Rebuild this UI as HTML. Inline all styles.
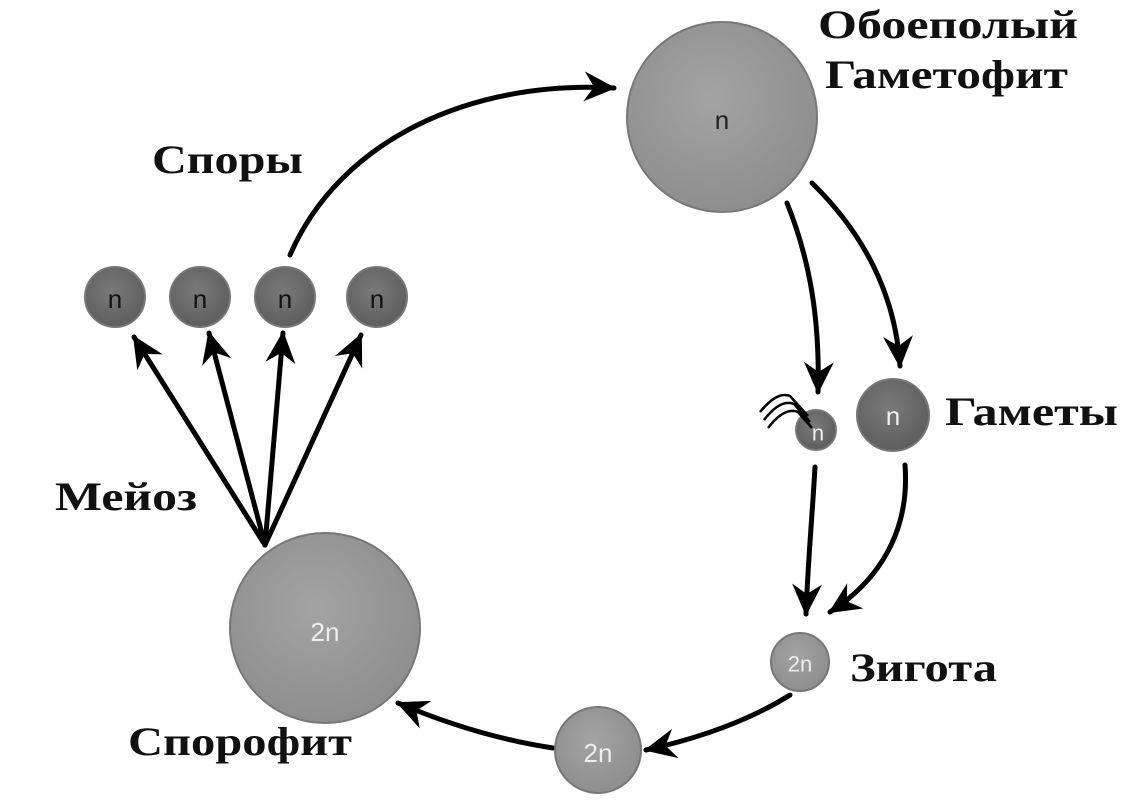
<!DOCTYPE html>
<html><head><meta charset="utf-8"><style>
html,body{margin:0;padding:0;background:#fff;}
svg{display:block;}
.t{font-family:"Liberation Serif",serif;font-weight:bold;font-size:40px;fill:#111;}
.c{font-family:"Liberation Sans",sans-serif;text-anchor:middle;dominant-baseline:central;}
</style></head><body>
<svg width="1142" height="810" viewBox="0 0 1142 810">
<defs>
<marker id="a" viewBox="-32 -18 36 36" refX="0" refY="0" markerWidth="36" markerHeight="36" orient="auto" markerUnits="userSpaceOnUse">
<path d="M-30,-15 L2,0 L-30,15 L-20,0 Z" fill="#000"/>
</marker>
<radialGradient id="g" cx="45%" cy="40%" r="60%"><stop offset="0" stop-color="#a3a3a3"/><stop offset="1" stop-color="#8e8e8e"/></radialGradient>
<radialGradient id="d" cx="45%" cy="40%" r="60%"><stop offset="0" stop-color="#7a7a7a"/><stop offset="1" stop-color="#5e5e5e"/></radialGradient>
</defs>
<g fill="none" stroke="#000" stroke-width="5" stroke-linecap="round">
<path d="M290,255 C340,140 470,80 614,88" marker-end="url(#a)"/>
<path d="M787,203 C810,260 820,320 818,392" marker-end="url(#a)"/>
<path d="M812,183 C860,230 895,290 900,366" marker-end="url(#a)"/>
<path d="M815,467 C812,520 808,560 806,614" marker-end="url(#a)"/>
<path d="M905,465 C910,530 880,580 830,612" marker-end="url(#a)"/>
<path d="M790,695 C750,720 700,738 646,750" marker-end="url(#a)"/>
<path d="M553,748 C500,740 450,725 398,703" marker-end="url(#a)"/>
<path d="M265,545 L134,337" marker-end="url(#a)"/>
<path d="M265,545 L209,333" marker-end="url(#a)"/>
<path d="M265,545 L283,333" marker-end="url(#a)"/>
<path d="M265,545 L361,335" marker-end="url(#a)"/>
</g>
<g stroke="#777" stroke-width="2">
<circle cx="722" cy="117" r="95" fill="url(#g)"/>
<circle cx="325" cy="628" r="95" fill="url(#g)"/>
<circle cx="598" cy="750" r="43" fill="url(#g)"/>
<circle cx="800" cy="662" r="29" fill="url(#g)"/>
<circle cx="115" cy="297" r="30" fill="url(#d)"/>
<circle cx="200" cy="297" r="30" fill="url(#d)"/>
<circle cx="285" cy="297" r="30" fill="url(#d)"/>
<circle cx="377" cy="297" r="30" fill="url(#d)"/>
<circle cx="893" cy="415" r="36" fill="url(#d)"/>
<circle cx="816" cy="430" r="20" fill="url(#d)"/>
</g>
<g fill="none" stroke="#000" stroke-width="2.5">
<path d="M760,412 C770,400 780,392 790,396 L808,416"/>
<path d="M764,420 C774,407 784,400 794,404 L810,422"/>
<path d="M768,428 C778,415 788,408 798,412 L812,428"/>
</g>
<g class="c" font-size="26">
<text x="722" y="120" fill="#222">n</text>
<text x="115" y="299" fill="#111">n</text>
<text x="200" y="299" fill="#111">n</text>
<text x="285" y="299" fill="#111">n</text>
<text x="377" y="299" fill="#111">n</text>
<text x="893" y="416" fill="#eee">n</text>
<text x="818" y="433" fill="#eee" font-size="22">n</text>
<text x="325" y="632" fill="#eee">2n</text>
<text x="598" y="753" fill="#eee">2n</text>
<text x="800" y="664" fill="#eee" font-size="22">2n</text>
</g>
<text class="t" x="818" y="38" textLength="260" lengthAdjust="spacingAndGlyphs">Обоеполый</text>
<text class="t" x="825" y="88" textLength="243" lengthAdjust="spacingAndGlyphs">Гаметофит</text>
<text class="t" x="152" y="173" textLength="151" lengthAdjust="spacingAndGlyphs">Споры</text>
<text class="t" x="945" y="425" textLength="173" lengthAdjust="spacingAndGlyphs">Гаметы</text>
<text class="t" x="55" y="510" textLength="142" lengthAdjust="spacingAndGlyphs">Мейоз</text>
<text class="t" x="850" y="681" textLength="147" lengthAdjust="spacingAndGlyphs">Зигота</text>
<text class="t" x="128" y="755" textLength="224" lengthAdjust="spacingAndGlyphs">Спорофит</text>
</svg>
</body></html>
